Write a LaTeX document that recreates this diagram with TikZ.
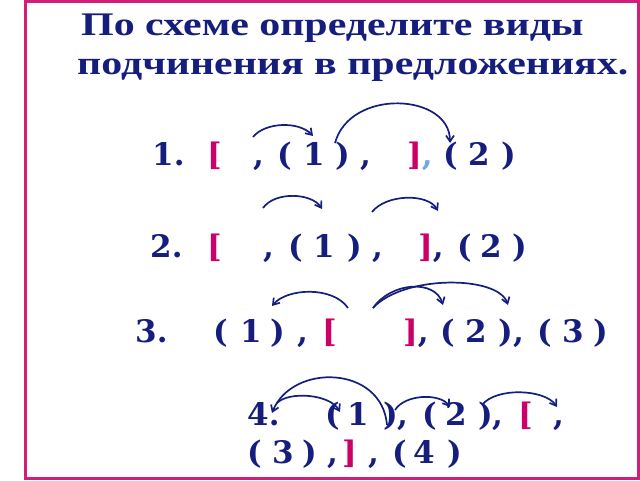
\documentclass[tikz,border=0pt]{standalone}
\usepackage{fontspec}
\setmainfont{Liberation Serif}
\newfontfamily\titlefont{Liberation Serif}[FakeStretch=1.27]
\newfontfamily\bodyfont{DejaVu Serif}
\usetikzlibrary{arrows.meta}

\begin{document}
\begin{tikzpicture}[x=1pt, y=-1pt,
    every node/.style={inner sep=0pt, anchor=base west},
    title/.style={font=\titlefont\fontsize{33}{33}\selectfont\bfseries, text=navytext},
    sign/.style={font=\bodyfont\fontsize{31}{31}\selectfont\bfseries, text=navytext},
    bracket/.style={sign, text=bracketred},
    link/.style={-{Straight Barb[length=6pt,width=8pt]}, draw=navytext, line width=1.7pt}]

    % Colors
    \definecolor{navytext}{RGB}{22,30,125}
    \definecolor{bracketred}{RGB}{205,0,105}
    \definecolor{framered}{RGB}{210,30,120}
    \definecolor{commablue}{RGB}{110,170,225}

    % Frame
    \useasboundingbox (0,0) rectangle (640,480);
    \draw[framered, line width=3pt] (25,1.5) rectangle (638.5,478.5);

    % Title
    \node[title] (t1) at (81,35) {По схеме определите виды};
    \node[title] (t2) at (77,74) {подчинения в предложениях.};

    % Scheme 1
    \foreach \x/\t [count=\i] in {152/1., 253/{,}, 277/(, 303/1, 335/), 360/{,}, 443/(, 468/2, 501/)}
        \node[sign] (s1-\i) at (\x,165) {\t};
    \node[bracket] (b1l) at (207,165) {[};
    \node[sign] (b1r) at (407,165) {\textcolor{bracketred}{]}\textcolor{commablue}{,}};

    % Scheme 2
    \foreach \x/\t [count=\i] in {150/2., 263/{,}, 288/(, 313/1, 347/), 372/{,}, 457/(, 480/2, 512/)}
        \node[sign] (s2-\i) at (\x,257) {\t};
    \node[bracket] (b2l) at (207,257) {[};
    \node[sign] (b2r) at (418,257) {\textcolor{bracketred}{]},};

    % Scheme 3
    \foreach \x/\t [count=\i] in {135/3., 213/(, 240/1, 270/), 297/{,}, 440/(, 465/2, 498/), 513/{,}, 537/(, 562/3, 593/)}
        \node[sign] (s3-\i) at (\x,342) {\t};
    \node[bracket] (b3l) at (322,342) {[};
    \node[sign] (b3r) at (403,342) {\textcolor{bracketred}{]},};

    % Scheme 4
    \foreach \x/\t [count=\i] in {247/4., 325/(, 347/1, 383/), 397/{,}, 422/(, 445/2, 478/), 492/{,}, 553/{,}}
        \node[sign] (s4-\i) at (\x,425) {\t};
    \node[bracket] (b4l) at (518,425) {[};
    \foreach \x/\t [count=\i] in {247/(, 272/3, 302/), 327/{,}, 368/{,}, 392/(, 413/4, 447/)}
        \node[sign] (s5-\i) at (\x,463) {\t};
    \node[bracket] (b4r) at (342,463) {]};

    % Arrow ends
    \coordinate (p1a) at (253,137);  \coordinate (q1a) at (313,136);
    \coordinate (p1b) at (335,143);  \coordinate (q1b) at (450,143);
    \coordinate (p2a) at (263,208);  \coordinate (q2a) at (322,209);
    \coordinate (p2b) at (372,212);  \coordinate (q2b) at (438,211);
    \coordinate (p3a) at (348,308);  \coordinate (q3a) at (272,306);
    \coordinate (p3b) at (373,308);  \coordinate (q3b) at (443,305);
    \coordinate (q3c) at (508,305);
    \coordinate (p4a) at (387,425);  \coordinate (q4a) at (272,413);
    \coordinate (p4b) at (277,403);  \coordinate (q4b) at (340,412);
    \coordinate (p4c) at (395,410);  \coordinate (q4c) at (450,407);
    \coordinate (p4d) at (482,405);  \coordinate (q4d) at (557,407);

    % Arrows
    \draw[link] (p1a) .. controls +(12,-15) and +(-14,-15) .. (q1a);
    \draw[link] (p1b) .. controls +(15,-55) and +(0,-50) .. (q1b);
    \draw[link] (p2a) .. controls +(12,-17) and +(-10,-16) .. (q2a);
    \draw[link] (p2b) .. controls +(14,-18) and +(-10,-18) .. (q2b);
    \draw[link] (p3a) .. controls +(-15,-22) and +(15,-18) .. (q3a);
    \draw[link] (p3b) .. controls +(18,-26) and +(-8,-26) .. (q3b);
    \draw[link] (p3b) .. controls +(30,-33) and +(-10,-30) .. (q3c);
    \draw[link] (p4a) .. controls +(-5,-60) and +(20,-50) .. (q4a);
    \draw[link] (p4b) .. controls +(12,-12) and +(-10,-18) .. (q4b);
    \draw[link] (p4c) .. controls +(10,-16) and +(-10,-14) .. (q4c);
    \draw[link] (p4d) .. controls +(14,-18) and +(-12,-18) .. (q4d);

\end{tikzpicture}
\end{document}
